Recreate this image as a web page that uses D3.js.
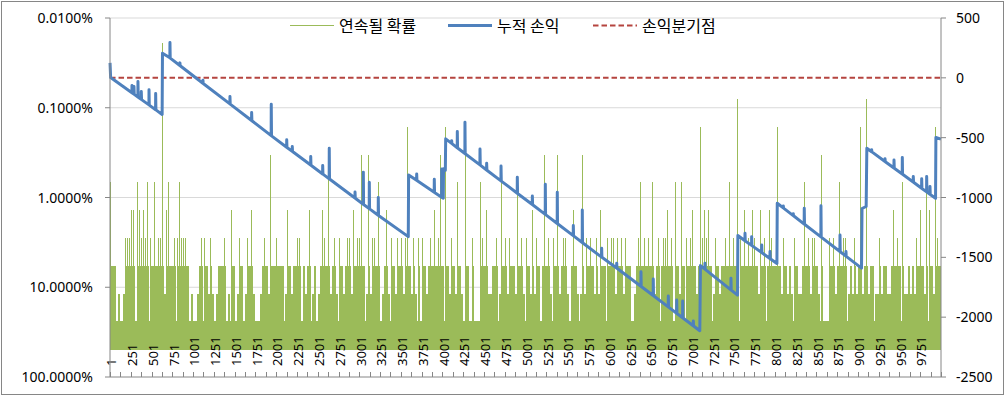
<!DOCTYPE html>
<html>
  <head>
    <meta charset="utf-8" />
    <script src="https://d3js.org/d3.v7.min.js"></script>
    <style>
      body { margin: 0; background: #fff; }
      text { font-family: "Noto Sans", "Noto Sans CJK KR", sans-serif; fill: #000; }
      .legend text { font-family: "Noto Sans CJK KR", sans-serif; font-size: 16px; }
    </style>
  </head>
  <body>
    <svg id="chart" width="1006" height="397"></svg>
    <script>
      // ---- data ----
      const trials = 10000;
      const binSize = 25; // longest streak found in every block of 25 trials

      // probability for a streak of length k (index k-1)
      const streakProb = [0.49, 0.2401, 0.1176, 0.0576, 0.0282, 0.0138,
        0.00678, 0.00332, 0.00163, 0.000798, 0.000391, 0.000192];

      // longest streak per block (400 blocks)
      const streakLen = [
        7,4,4,2,3,2,3,5,5,5, 6,6,2,7,6,5,6,5,7,5,
        4,7,4,5,5,12,3,6,7,4, 4,5,5,7,5,5,5,4,2,3,
        2,2,3,4,5,5,4,3,5,3, 2,3,4,4,4,5,2,3,6,4,
        2,3,5,4,2,3,5,4,6,3, 2,2,3,4,5,4,3,8,4,4,
        5,4,4,4,3,6,4,3,4,4, 5,5,2,4,3,4,6,3,4,2,
        3,4,6,5,4,8,3,4,5,3, 5,4,3,4,5,5,3,6,4,5,
        5,8,4,3,8,3,5,5,4,7, 2,3,4,6,3,5,4,3,5,4,
        5,3,5,9,4,3,5,3,5,2, 5,4,3,4,5,4,6,4,5,8,
        4,9,4,3,5,4,3,7,4,3, 2,8,4,2,5,2,2,2,7,5,
        4,6,3,3,4,4,5,3,7,4, 5,3,5,4,4,3,7,4,5,3,
        5,4,3,6,3,5,4,2,4,8, 4,5,3,5,4,8,3,4,5,5,
        3,2,4,6,4,3,3,8,3,5, 4,5,4,3,5,3,6,4,4,5,
        4,5,5,3,5,4,5,3,5,4, 4,2,3,4,5,7,4,5,4,5,
        4,7,3,4,5,4,5,5,6,4, 5,2,7,4,3,7,4,5,4,5,
        6,4,3,4,9,5,6,5,6,4, 3,5,4,3,4,4,5,4,7,4,
        5,4,10,5,4,6,4,5,4,6, 5,4,3,6,4,5,4,6,5,4,
        4,9,4,3,5,4,3,4,3,5, 4,3,3,4,7,4,5,3,5,5,
        4,3,8,2,2,2,5,4,5,3, 4,7,4,5,5,3,4,3,5,3,
        4,9,3,4,10,3,4,4,3,3, 5,3,4,4,3,3,4,6,4,5,
        4,7,3,3,4,3,4,3,5,4, 6,4,3,7,6,4,3,9,5,4
      ];

      // cumulative profit/loss, [trial, value] at the turning points
      const cumulativePL = [
        [1,125],[8,2],
        [264,-124],[265,-64],[268,-126],[288,-136],[289,-73],[292,-138],
        [336,-160],[337,-31],[340,-162],[376,-180],[377,-114],[380,-182],
        [469,-226],[470,-100],[473,-228],[549,-266],[550,-131],[553,-268],
        [628,-306],[632,206],
        [721,167],[722,295],[725,165],[841,103],[842,125],[845,101],
        [1118,-45],[1119,-20],[1122,-47],[1443,-218],[1444,-156],[1447,-220],
        [1704,-357],[1705,-290],[1708,-359],[1940,-483],[1941,-220],[1944,-485],
        [2126,-580],[2127,-518],[2130,-582],[2193,-614],[2194,-574],[2197,-616],
        [2415,-729],[2416,-658],[2419,-731],[2559,-803],[2560,-733],[2563,-805],
        [2638,-844],[2639,-588],[2642,-846],[2948,-1004],[2949,-955],[2952,-1006],
        [3048,-1056],[3049,-788],[3052,-1058],[3120,-1093],[3121,-872],[3124,-1095],
        [3228,-1148],[3229,-1001],[3232,-1150],
        [3590,-1327],[3594,-811],
        [3690,-856],[3691,-803],[3694,-858],[3902,-956],[3903,-847],[3906,-958],
        [3991,-997],[3992,-761],[3995,-999],
        [4011,-1006],[4014,-760],[4036,-772],[4040,-510],
        [4111,-548],[4112,-525],[4115,-550],[4179,-584],[4180,-449],[4183,-586],
        [4271,-632],[4272,-371],[4275,-634],[4452,-727],[4453,-594],[4456,-729],
        [4532,-770],[4533,-714],[4536,-772],[4705,-861],[4706,-736],[4709,-863],
        [4901,-964],[4902,-830],[4905,-966],[5082,-1059],[5083,-987],[5086,-1061],
        [5238,-1141],[5239,-889],[5242,-1143],[5382,-1217],[5383,-956],[5386,-1219],
        [5575,-1319],[5576,-1235],[5579,-1321],[5683,-1376],[5684,-1104],[5687,-1378],
        [5916,-1498],[5917,-1424],[5920,-1500],
        [6097,-1589],[6098,-1549],[6101,-1591],[6389,-1742],[6390,-1620],[6393,-1744],
        [6537,-1819],[6538,-1681],[6541,-1821],[6718,-1914],[6719,-1823],[6722,-1916],
        [6819,-1967],[6820,-1856],[6823,-1969],[6891,-2005],[6892,-1865],[6895,-2007],
        [7019,-2072],[7020,-2032],[7023,-2074],
        [7098,-2113],[7106,-1569],
        [7159,-1599],[7160,-1549],[7163,-1601],[7472,-1772],[7473,-1675],[7476,-1774],
        [7552,-1816],[7556,-1318],
        [7641,-1361],[7642,-1299],[7645,-1363],[7721,-1400],[7722,-1327],[7725,-1402],
        [7842,-1460],[7843,-1396],[7846,-1462],[7942,-1510],[7943,-1452],[7946,-1512],
        [8026,-1551],[8030,-1048],
        [8102,-1087],[8103,-1070],[8106,-1089],[8222,-1151],[8223,-1135],[8226,-1153],
        [8354,-1222],[8355,-1090],[8358,-1224],[8555,-1329],[8556,-1068],[8559,-1331],
        [8784,-1451],[8785,-1313],[8788,-1453],[8856,-1490],[8857,-1452],[8860,-1492],
        [9044,-1590],[9050,-1092],[9100,-1075],[9108,-588],
        [9165,-617],[9166,-600],[9169,-619],[9326,-699],[9327,-677],[9330,-701],
        [9434,-754],[9435,-686],[9438,-756],[9534,-804],[9535,-666],[9538,-806],
        [9666,-871],[9667,-825],[9670,-873],[9767,-923],[9768,-844],[9771,-925],
        [9827,-953],[9828,-825],[9831,-955],[9867,-973],[9868,-909],[9871,-975],
        [9935,-1007],[9939,-499],[10000,-512]
      ];

      const breakEven = 0;

      const xLabels = [1,251,501,751,1001,1251,1501,1751,2001,2251,2501,2751,
        3001,3251,3501,3751,4001,4251,4501,4751,5001,5251,5501,5751,6001,6251,
        6501,6751,7001,7251,7501,7751,8001,8251,8501,8751,9001,9251,9501,9751];
      const leftTicks = [0.0001, 0.001, 0.01, 0.1, 1];
      const leftTickLabels = ["0.0100%", "0.1000%", "1.0000%", "10.0000%", "100.0000%"];
      const rightTicks = [500, 0, -500, -1000, -1500, -2000, -2500];
      const legendNames = ["연속될 확률", "누적 손익", "손익분기점"];

      // ---- chart ----
      const svg = d3.select("#chart");
      const plotLeft = 110, plotRight = 941, plotTop = 18, plotBottom = 377;

      const x = d3.scaleLinear().domain([0.5, trials + 0.5]).range([plotLeft, plotRight]);
      const yLeft = d3.scaleLog().domain([0.0001, 1]).range([plotTop, plotBottom]);
      const yRight = d3.scaleLinear().domain([-2500, 500]).range([plotBottom, plotTop]);

      const green = "#9BBB59", blue = "#4F81BD", red = "#B5443F", axisGrey = "#868686";

      // chart area border
      svg.append("rect")
        .attr("x", 1.5).attr("y", 1.5)
        .attr("width", 1002).attr("height", 393)
        .attr("fill", "#fff").attr("stroke", axisGrey);

      // gridlines
      svg.append("g").selectAll("line")
        .data(leftTicks.slice(0, -1))
        .join("line")
        .attr("x1", plotLeft).attr("x2", plotRight)
        .attr("y1", d => yLeft(d)).attr("y2", d => yLeft(d))
        .attr("stroke", "#D9D9D9");

      // streak probability: the line swings so fast that each block
      // shows as a solid stripe from 49% up to its longest streak
      const blocks = streakLen.map((k, i) => ({ k, i, cx: Math.round(x(i * binSize + 13)) }));
      const gGreen = svg.append("g").attr("shape-rendering", "crispEdges").attr("fill", green);
      // band 1-2 is always filled
      gGreen.append("g").selectAll("rect")
        .data(blocks)
        .join("rect")
        .attr("x", d => Math.floor(x(d.i * binSize + 0.5)))
        .attr("width", d => Math.ceil(x((d.i + 1) * binSize + 0.5)) - Math.floor(x(d.i * binSize + 0.5)))
        .attr("y", d => yLeft(streakProb[Math.min(d.k, 2) - 1]))
        .attr("height", d => yLeft(streakProb[0]) + 1 - yLeft(streakProb[Math.min(d.k, 2) - 1]));
      // streaks of 3-4 (dense part)
      gGreen.append("g").selectAll("rect")
        .data(blocks.filter(d => d.k > 2))
        .join("rect")
        .attr("x", d => d.cx - 1)
        .attr("width", 2)
        .attr("y", d => yLeft(streakProb[Math.min(d.k, 4) - 1]))
        .attr("height", d => yLeft(streakProb[1]) + 1 - yLeft(streakProb[Math.min(d.k, 4) - 1]));
      // longer streaks (thin spikes)
      gGreen.append("g").selectAll("rect")
        .data(blocks.filter(d => d.k > 4))
        .join("rect")
        .attr("x", d => d.cx - 1)
        .attr("width", 1)
        .attr("y", d => yLeft(streakProb[d.k - 1]))
        .attr("height", d => yLeft(streakProb[3]) + 1 - yLeft(streakProb[d.k - 1]));

      // break-even line
      svg.append("line")
        .attr("x1", x(1)).attr("x2", x(trials))
        .attr("y1", yRight(breakEven)).attr("y2", yRight(breakEven))
        .attr("stroke", red).attr("stroke-width", 2)
        .attr("stroke-dasharray", "5.5,3");

      // cumulative profit / loss
      svg.append("path")
        .datum(cumulativePL)
        .attr("fill", "none")
        .attr("stroke", blue)
        .attr("stroke-width", 3)
        .attr("stroke-linejoin", "round")
        .attr("d", d3.line().x(d => x(d[0])).y(d => yRight(d[1])));

      // category axis (bottom, labels inside)
      const gx = svg.append("g");
      gx.append("line")
        .attr("x1", plotLeft).attr("x2", plotRight).attr("y1", plotBottom).attr("y2", plotBottom)
        .attr("stroke", axisGrey);
      gx.selectAll("line.tick")
        .data(d3.range(0, trials + 1, 125))
        .join("line")
        .attr("class", "tick")
        .attr("x1", d => Math.round(x(d + 0.5)) + 0.5).attr("x2", d => Math.round(x(d + 0.5)) + 0.5)
        .attr("y1", plotBottom - 5).attr("y2", plotBottom)
        .attr("stroke", axisGrey);
      gx.selectAll("text")
        .data(xLabels)
        .join("text")
        .attr("transform", d => `translate(${x(d) + 1.5},366) rotate(-90)`)
        .attr("dy", "0.36em")
        .attr("font-size", 13)
        .text(d => d);

      // left axis
      const gl = svg.append("g");
      gl.append("line")
        .attr("x1", plotLeft).attr("x2", plotLeft).attr("y1", plotTop).attr("y2", plotBottom)
        .attr("stroke", axisGrey);
      gl.selectAll("line.tick")
        .data(leftTicks)
        .join("line")
        .attr("class", "tick")
        .attr("x1", plotLeft - 5).attr("x2", plotLeft)
        .attr("y1", d => yLeft(d)).attr("y2", d => yLeft(d))
        .attr("stroke", axisGrey);
      gl.selectAll("text")
        .data(leftTicks)
        .join("text")
        .attr("x", 93).attr("y", d => yLeft(d))
        .attr("dy", "0.36em")
        .attr("text-anchor", "end")
        .attr("font-size", 14)
        .text((d, i) => leftTickLabels[i]);

      // right axis
      const gr = svg.append("g");
      gr.append("line")
        .attr("x1", plotRight).attr("x2", plotRight).attr("y1", plotTop).attr("y2", plotBottom)
        .attr("stroke", axisGrey);
      gr.selectAll("line.tick")
        .data(rightTicks)
        .join("line")
        .attr("class", "tick")
        .attr("x1", plotRight).attr("x2", plotRight + 5)
        .attr("y1", d => yRight(d)).attr("y2", d => yRight(d))
        .attr("stroke", axisGrey);
      gr.selectAll("text")
        .data(rightTicks)
        .join("text")
        .attr("x", 956).attr("y", d => yRight(d))
        .attr("dy", "0.36em")
        .attr("font-size", 14)
        .text(d => d);

      // legend
      const legend = svg.append("g").attr("class", "legend");
      const legendItems = [
        { name: legendNames[0], x: 290, color: green, width: 1.2, dash: null },
        { name: legendNames[1], x: 448, color: blue, width: 3, dash: null },
        { name: legendNames[2], x: 593, color: red, width: 2, dash: "5.5,3" }
      ];
      legendItems.forEach(it => {
        legend.append("line")
          .attr("x1", it.x).attr("x2", it.x + 44)
          .attr("y1", 25.5).attr("y2", 25.5)
          .attr("stroke", it.color).attr("stroke-width", it.width)
          .attr("stroke-dasharray", it.dash);
        legend.append("text")
          .attr("x", it.x + 49).attr("y", 31.5)
          .text(it.name);
      });
    </script>
  </body>
</html>
